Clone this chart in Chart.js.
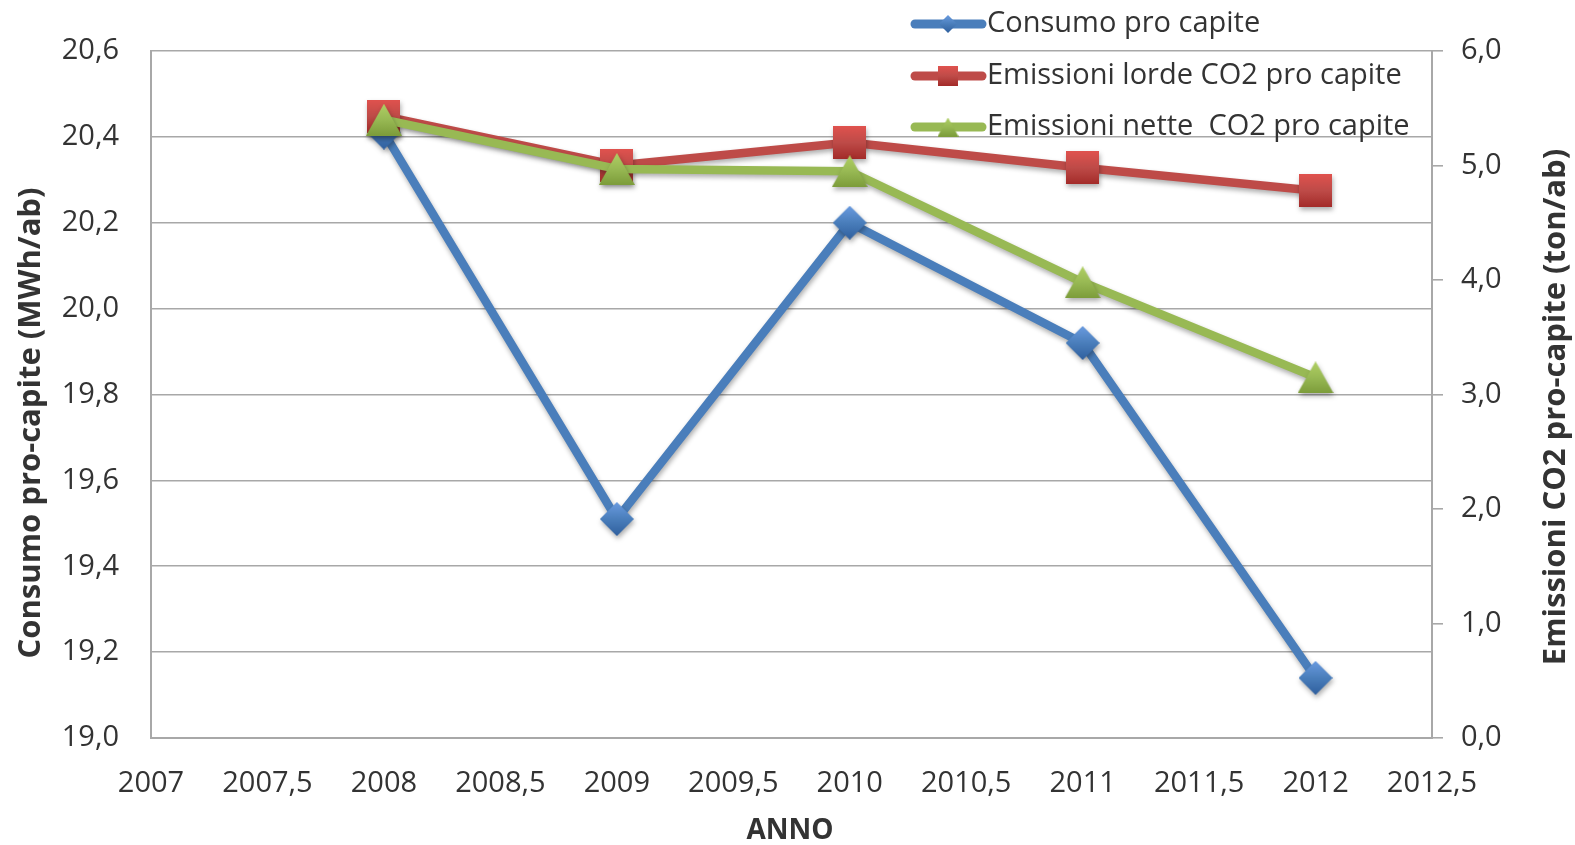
<!DOCTYPE html>
<html>
<head>
<meta charset="utf-8">
<script src="https://cdn.jsdelivr.net/npm/chart.js@4.4.1/dist/chart.umd.min.js"></script>
<style>
  html, body { margin: 0; padding: 0; background: #ffffff; }
  #wrap { width: 1575px; height: 845px; position: relative; }
</style>
</head>
<body>
<div id="wrap"><canvas id="c" width="1575" height="845"></canvas></div>
<script>
// Years and per-capita series
const anni = [2008, 2009, 2010, 2011, 2012];
const consumo = [20.41, 19.51, 20.20, 19.92, 19.14];          // MWh/ab (left axis)
const emissioniLorde = [5.43, 5.00, 5.20, 4.98, 4.78];        // ton/ab (right axis)
const emissioniNette = [5.40, 4.97, 4.95, 3.98, 3.15];        // ton/ab (right axis)

const seriesNames = ['Consumo pro capite', 'Emissioni lorde CO2 pro capite', 'Emissioni nette  CO2 pro capite'];

// Axis ranges: [min, max, step]
const xRange = [2007, 2012.5, 0.5];
const yLeftRange = [19.0, 20.6, 0.2];
const yRightRange = [0, 6, 1];

const titoloX = 'ANNO';
const titoloSinistra = 'Consumo pro-capite (MWh/ab)';
const titoloDestra = 'Emissioni CO2 pro-capite (ton/ab)';

const FONT = '"Open Sans", "DejaVu Sans", sans-serif';
const TEXT = '#333333';
const GRID = '#a8a8a8';

const colori = {
  blu:   { line: '#4a7ebb', light: '#6a9be0', dark: '#2f5f9e' },
  rosso: { line: '#be4b48', light: '#e0524e', dark: '#a32b29' },
  verde: { line: '#98b954', light: '#b0d064', dark: '#7c9c3a' }
};

const comma = (s) => String(s).replace('.', ',');

// Marker sprites with a soft vertical gradient
function sprite(kind, size, c) {
  const cv = document.createElement('canvas');
  const w = kind === 'triangle' ? Math.round(size * 1.12) : size;
  const h = size;
  cv.width = w; cv.height = h;
  const g = cv.getContext('2d');
  const grad = g.createLinearGradient(0, 0, 0, h);
  grad.addColorStop(0, c.light);
  grad.addColorStop(0.5, c.line);
  grad.addColorStop(1, c.dark);
  g.fillStyle = grad;
  g.beginPath();
  if (kind === 'diamond') {
    g.moveTo(w / 2, 0); g.lineTo(w, h / 2); g.lineTo(w / 2, h); g.lineTo(0, h / 2);
  } else if (kind === 'square') {
    g.rect(0, 0, w, h);
  } else {
    g.moveTo(w / 2, 0); g.lineTo(w, h); g.lineTo(0, h);
  }
  g.closePath();
  g.fill();
  return cv;
}

const markerBlu = sprite('diamond', 34, colori.blu);
const markerRosso = sprite('square', 33, colori.rosso);
const markerVerde = sprite('triangle', 32, colori.verde);
const legBlu = sprite('diamond', 18, colori.blu);
const legRosso = sprite('square', 20, colori.rosso);
const legVerde = sprite('triangle', 19, colori.verde);

const punti = (ys) => anni.map((x, i) => ({ x: x, y: ys[i] }));

const datasets = [
  { label: seriesNames[0], data: punti(consumo), yAxisID: 'ySx', borderColor: colori.blu.line,
    pointStyle: markerBlu, legendMarker: legBlu, order: 3 },
  { label: seriesNames[1], data: punti(emissioniLorde), yAxisID: 'yDx', borderColor: colori.rosso.line,
    pointStyle: markerRosso, legendMarker: legRosso, order: 2 },
  { label: seriesNames[2], data: punti(emissioniNette), yAxisID: 'yDx', borderColor: colori.verde.line,
    pointStyle: markerVerde, legendMarker: legVerde, order: 1 }
].map(d => Object.assign({
  borderWidth: 8.5,
  tension: 0,
  fill: false,
  pointRadius: 17,
  pointHoverRadius: 17,
  borderCapStyle: 'round',
  borderJoinStyle: 'round',
  clip: false
}, d));

// Drop shadow under lines and markers
const ombra = {
  id: 'ombra',
  beforeDatasetsDraw(chart) {
    const ctx = chart.ctx;
    ctx.save();
    ctx.shadowColor = 'rgba(0,0,0,0.32)';
    ctx.shadowBlur = 5;
    ctx.shadowOffsetX = 1;
    ctx.shadowOffsetY = 3;
  },
  afterDatasetsDraw(chart) {
    chart.ctx.restore();
  }
};

// Axis titles and the legend drawn on top of the plot
const decorazioni = {
  id: 'decorazioni',
  afterDraw(chart) {
    const ctx = chart.ctx;
    ctx.save();
    ctx.fillStyle = TEXT;
    ctx.textAlign = 'center';
    ctx.textBaseline = 'middle';
    ctx.font = 'bold 28px ' + FONT;
    ctx.fillText(titoloX, 790, 831);

    ctx.font = 'bold 31px ' + FONT;
    ctx.save();
    ctx.translate(31, 423);
    ctx.rotate(-Math.PI / 2);
    ctx.fillText(titoloSinistra, 0, 0);
    ctx.restore();

    ctx.save();
    ctx.translate(1556, 407);
    ctx.rotate(-Math.PI / 2);
    ctx.fillText(titoloDestra, 0, 0);
    ctx.restore();

    // legend
    const rows = [24, 76, 127];
    chart.data.datasets.forEach((ds, i) => {
      const y = rows[i];
      ctx.strokeStyle = ds.borderColor;
      ctx.lineWidth = 9;
      ctx.lineCap = 'round';
      ctx.beginPath();
      ctx.moveTo(915, y);
      ctx.lineTo(982, y);
      ctx.stroke();
      const m = ds.legendMarker;
      ctx.drawImage(m, 948 - m.width / 2, y - m.height / 2);
      ctx.fillStyle = TEXT;
      ctx.font = '29px ' + FONT;
      ctx.textAlign = 'left';
      ctx.textBaseline = 'middle';
      ctx.fillText(ds.label, 987, y);
    });
    ctx.restore();
  }
};

new Chart(document.getElementById('c'), {
  type: 'line',
  data: { datasets: datasets },
  plugins: [ombra, decorazioni],
  options: {
    responsive: false,
    animation: false,
    devicePixelRatio: 1,
    layout: { padding: { top: 51, left: 0, right: 0, bottom: 0 } },
    plugins: { legend: { display: false }, tooltip: { enabled: false }, title: { display: false } },
    scales: {
      x: {
        type: 'linear',
        min: xRange[0], max: xRange[1],
        afterFit(s) { s.height = 107; },
        afterBuildTicks(s) {
          const t = [];
          for (let v = xRange[0]; v <= xRange[1] + 1e-9; v += xRange[2]) t.push({ value: +v.toFixed(1) });
          s.ticks = t;
        },
        ticks: {
          autoSkip: false, maxRotation: 0, padding: 28,
          color: TEXT, font: { family: FONT, size: 29 },
          callback: (v) => comma(+v.toFixed(1))
        },
        grid: { drawOnChartArea: false, drawTicks: false },
        border: { display: true, color: GRID, width: 2 }
      },
      ySx: {
        type: 'linear', position: 'left',
        min: yLeftRange[0], max: yLeftRange[1],
        afterFit(s) { s.width = 151; },
        afterBuildTicks(s) {
          const t = [];
          for (let v = yLeftRange[0]; v <= yLeftRange[1] + 1e-9; v += yLeftRange[2]) t.push({ value: +v.toFixed(1) });
          s.ticks = t;
        },
        ticks: {
          padding: 32, color: TEXT, font: { family: FONT, size: 29 },
          callback: (v) => comma(v.toFixed(1))
        },
        grid: { color: GRID, lineWidth: 1.6, drawTicks: false },
        border: { display: true, color: GRID, width: 2 }
      },
      yDx: {
        type: 'linear', position: 'right',
        min: yRightRange[0], max: yRightRange[1],
        afterFit(s) { s.width = 143; },
        afterBuildTicks(s) {
          const t = [];
          for (let v = yRightRange[0]; v <= yRightRange[1] + 1e-9; v += yRightRange[2]) t.push({ value: v });
          s.ticks = t;
        },
        ticks: {
          padding: 18, color: TEXT, font: { family: FONT, size: 29 },
          callback: (v) => comma(v.toFixed(1))
        },
        grid: { drawOnChartArea: false, drawTicks: true, tickLength: 11, color: GRID, lineWidth: 1.6 },
        border: { display: true, color: GRID, width: 2 }
      }
    }
  }
});
</script>
</body>
</html>
